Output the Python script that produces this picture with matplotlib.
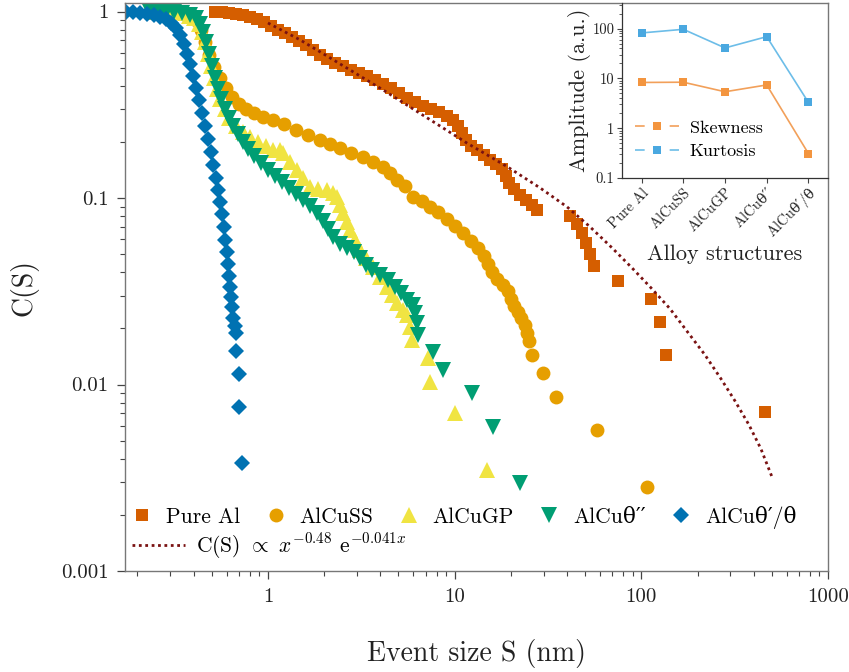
import matplotlib
matplotlib.use('Agg')
import matplotlib.pyplot as plt
from matplotlib.ticker import FixedLocator, FixedFormatter, LogLocator, NullFormatter
from matplotlib.lines import Line2D

plt.rcParams['font.family'] = ['cmr10', 'DejaVu Serif']
plt.rcParams['mathtext.fontset'] = 'cm'
plt.rcParams['axes.unicode_minus'] = False
plt.rcParams['axes.formatter.use_mathtext'] = True

# ---------------- data ----------------
series_names = ['Pure Al', 'AlCuSS', 'AlCuGP', 'AlCuθ′′', 'AlCuθ′/θ']
series_colors = ['#D55E00', '#E69F00', '#F0E442', '#009E73', '#0072B2']

pure_al_s = [0.520, 0.567, 0.618, 0.674, 0.735, 0.801, 0.873, 0.952, 1.038, 1.131,
             1.233, 1.344, 1.466, 1.598, 1.742, 1.899, 2.070, 2.285, 2.522, 2.784,
             3.072, 3.391, 3.742, 4.131, 4.558, 5.031, 5.554, 6.130, 6.764, 7.466,
             8.239, 9.094, 9.793, 10.42, 10.94, 11.50, 12.23, 13.17, 14.36, 15.46,
             16.64, 17.92, 18.83, 19.54, 20.78, 22.38, 24.10, 25.94, 27.60, 41.46,
             45.19, 48.07, 50.50, 53.05, 55.74, 74.94, 112.6, 125.8, 135.5, 459.2]
pure_al_c = [0.996, 0.996, 0.984, 0.972, 0.960, 0.937, 0.914, 0.881, 0.838, 0.798,
             0.769, 0.732, 0.696, 0.663, 0.623, 0.586, 0.558, 0.531, 0.511, 0.487,
             0.469, 0.452, 0.430, 0.410, 0.390, 0.3665, 0.3445, 0.328, 0.312, 0.3007,
             0.290, 0.276, 0.2626, 0.2438, 0.2237, 0.2047, 0.1905, 0.1813, 0.1705, 0.1603,
             0.1525, 0.1434, 0.1315, 0.1207, 0.112, 0.104, 0.0978, 0.0919, 0.0865, 0.0803,
             0.0727, 0.0651, 0.0575, 0.0502, 0.0433, 0.0360, 0.0288, 0.0217, 0.0144, 0.00714]

alcuss_s = [0.248, 0.281, 0.318, 0.351, 0.382, 0.412, 0.438, 0.460, 0.483, 0.514,
            0.553, 0.596, 0.642, 0.700, 0.762, 0.841, 0.940, 1.064, 1.218, 1.413,
            1.638, 1.899, 2.148, 2.430, 2.784, 3.228, 3.651, 4.131, 4.502, 4.909,
            5.417, 5.980, 6.682, 7.374, 8.138, 9.094, 10.04, 11.08, 12.23, 13.33,
            14.36, 15.08, 15.84, 16.85, 18.15, 19.30, 20.03, 20.78, 21.83, 22.66,
            23.80, 24.39, 25.00, 25.94, 29.72, 34.89, 57.84, 107.2]
alcuss_c = [0.996, 0.996, 0.996, 0.984, 0.960, 0.903, 0.798, 0.688, 0.586, 0.505,
            0.441, 0.390, 0.349, 0.320, 0.3007, 0.2862, 0.2725, 0.2626, 0.2499, 0.232,
            0.2182, 0.2047, 0.1953, 0.1858, 0.1747, 0.1663, 0.1563, 0.147, 0.1365, 0.1252,
            0.1162, 0.1015, 0.0966, 0.0897, 0.0843, 0.0773, 0.0710, 0.0651, 0.0589, 0.0541,
            0.049, 0.0444, 0.0402, 0.0369, 0.0342, 0.0318, 0.0288, 0.0264, 0.0245, 0.0228,
            0.0209, 0.0189, 0.0171, 0.0144, 0.01155, 0.00859, 0.00571, 0.00283]

alcugp_s = [0.248, 0.271, 0.299, 0.330, 0.359, 0.378, 0.400, 0.425, 0.444, 0.462,
            0.479, 0.497, 0.516, 0.536, 0.556, 0.586, 0.622, 0.674, 0.735, 0.801,
            0.884, 0.976, 1.064, 1.159, 1.203, 1.312, 1.430, 1.539, 1.679, 1.853,
            2.070, 2.229, 2.342, 2.430, 2.522, 2.649, 2.750, 2.924, 3.110, 3.349,
            3.651, 3.980, 4.339, 4.615, 4.909, 5.285, 5.554, 5.763, 5.906, 7.195,
            7.374, 10.04, 14.89]
alcugp_c = [0.996, 0.996, 0.996, 0.996, 0.984, 0.948, 0.925, 0.859, 0.778, 0.688,
            0.593, 0.511, 0.441, 0.385, 0.340, 0.3007, 0.269, 0.2438, 0.2265, 0.2129,
            0.2001, 0.1905, 0.1813, 0.1813, 0.1747, 0.1563, 0.1416, 0.1283, 0.1148, 0.112,
            0.1107, 0.1066, 0.1015, 0.0919, 0.0833, 0.0745, 0.0675, 0.0597, 0.0528, 0.0478,
            0.0428, 0.0378, 0.0334, 0.0303, 0.0274, 0.0252, 0.0236, 0.0204, 0.0174, 0.0139,
            0.01034, 0.00705, 0.00349]

alcu_t2_s = [0.233, 0.258, 0.284, 0.314, 0.346, 0.382, 0.412, 0.432, 0.449, 0.466,
             0.483, 0.501, 0.520, 0.540, 0.560, 0.588, 0.618, 0.650, 0.691, 0.735,
             0.781, 0.841, 0.917, 1.000, 1.090, 1.189, 1.296, 1.413, 1.539, 1.679,
             1.830, 1.970, 2.096, 2.229, 2.430, 2.649, 2.888, 3.110, 3.349, 3.606,
             3.980, 4.393, 4.788, 5.157, 5.554, 5.980, 6.130, 6.283, 6.361, 7.651,
             8.657, 12.38, 16.04, 22.38]
alcu_t2_c = [0.996, 0.996, 0.996, 0.996, 0.984, 0.960, 0.925, 0.859, 0.778, 0.688,
             0.593, 0.511, 0.441, 0.385, 0.340, 0.3007, 0.269, 0.2438, 0.2209, 0.2001,
             0.1836, 0.1684, 0.1544, 0.1416, 0.1315, 0.1221, 0.1134, 0.1053, 0.0978, 0.0908,
             0.0833, 0.0754, 0.0684, 0.0619, 0.0568, 0.0541, 0.0515, 0.0478, 0.0438, 0.0412,
             0.0388, 0.0364, 0.0334, 0.0310, 0.0285, 0.0268, 0.0242, 0.0214, 0.0185, 0.0150,
             0.0120, 0.0090, 0.0059, 0.00297]

alcu_t1_s = [0.1735, 0.189, 0.206, 0.225, 0.245, 0.264, 0.284, 0.302, 0.3215, 0.338,
             0.355, 0.368, 0.382, 0.397, 0.4115, 0.427, 0.443, 0.460, 0.477, 0.495,
             0.5075, 0.527, 0.540, 0.553, 0.567, 0.581, 0.588, 0.603, 0.611, 0.618,
             0.626, 0.634, 0.6415, 0.6495, 0.666, 0.674, 0.674, 0.6995, 0.6995, 0.726]
alcu_t1_c = [0.996, 0.996, 0.984, 0.972, 0.960, 0.937, 0.914, 0.870, 0.818, 0.750,
             0.671, 0.593, 0.524, 0.452, 0.390, 0.336, 0.286, 0.244, 0.2077, 0.1769,
             0.1507, 0.1283, 0.1107, 0.0954, 0.0823, 0.0701, 0.0597, 0.0515, 0.0444, 0.0383,
             0.0334, 0.0295, 0.0261, 0.0228, 0.0206, 0.0189, 0.0152, 0.0114, 0.0076, 0.0038]

fit_s = [1.0, 1.484, 2.02, 4.13, 11.64, 19.06, 28.64, 39.95, 53.05, 69.6, 89.1, 112.6,
         142.3, 173.3, 219, 267, 317, 377, 437, 500.6]
fit_c = [0.868, 0.705, 0.586, 0.38, 0.197, 0.1475, 0.1134, 0.0897, 0.0701, 0.0541, 0.0422,
         0.033, 0.0255, 0.01965, 0.01443, 0.01073, 0.00818, 0.00608, 0.00452, 0.0032]
fit_label = r'C(S) $\propto$ $x^{-0.48}$ e$^{-0.041x}$'

x_ticks = [1, 10, 100, 1000]
x_tick_labels = ['1', '10', '100', '1000']
y_ticks = [0.001, 0.01, 0.1, 1]
y_tick_labels = ['0.001', '0.01', '0.1', '1']

inset_categories = ['Pure Al', 'AlCuSS', 'AlCuGP', 'AlCuθ′′', 'AlCuθ′/θ']
skewness = [8.3, 8.4, 5.4, 7.4, 0.31]
kurtosis = [82, 97, 41, 69, 3.3]
inset_y_ticks = [0.1, 1, 10, 100]
inset_y_tick_labels = ['0.1', '1', '10', '100']

# ---------------- figure ----------------
fig = plt.figure(figsize=(8.49, 6.72), dpi=100)
ax = fig.add_axes([0.1472, 0.1503, 0.8281, 0.8445])

series = [(pure_al_s, pure_al_c, 's', 8.8),
          (alcuss_s, alcuss_c, 'o', 10),
          (alcugp_s, alcugp_c, '^', 11.5),
          (alcu_t2_s, alcu_t2_c, 'v', 11.5),
          (alcu_t1_s, alcu_t1_c, 'D', 7.8)]
handles = []
for (sx, sy, mk, ms), name, col in zip(series, series_names, series_colors):
    h, = ax.plot(sx, sy, linestyle='none', marker=mk, markersize=ms,
                 color=col, markeredgewidth=0, label=name, zorder=2)
    handles.append(h)
fit_h, = ax.plot(fit_s, fit_c, linestyle=(0, (1, 1.3)), color='#7A1212',
                 linewidth=2.0, label=fit_label, zorder=3)

ax.set_xscale('log')
ax.set_yscale('log')
ax.set_xlim(0.1714, 1000)
ax.set_ylim(0.001, 1.104)

ax.xaxis.set_major_locator(FixedLocator(x_ticks))
ax.xaxis.set_major_formatter(FixedFormatter(x_tick_labels))
ax.yaxis.set_major_locator(FixedLocator(y_ticks))
ax.yaxis.set_major_formatter(FixedFormatter(y_tick_labels))
ax.xaxis.set_minor_locator(LogLocator(base=10, subs=range(2, 10), numticks=20))
ax.yaxis.set_minor_locator(LogLocator(base=10, subs=range(2, 10), numticks=20))
ax.xaxis.set_minor_formatter(NullFormatter())
ax.yaxis.set_minor_formatter(NullFormatter())

spine_col = '#777777'
for sp in ax.spines.values():
    sp.set_color(spine_col)
    sp.set_linewidth(1.0)
ax.tick_params(which='both', direction='out', color='#444444', labelsize=15,
               labelcolor='#222222')
ax.tick_params(which='major', length=6, width=0.9, pad=6)
ax.tick_params(which='minor', length=3.5, width=0.8)

ax.set_xlabel('Event size S (nm)', fontsize=20, labelpad=24, color='#222222')
ax.set_ylabel('C(S)', fontsize=20, labelpad=16, color='#222222')

leg1 = ax.legend(handles=handles, loc='center left', bbox_to_anchor=(-0.015, 0.095),
                 ncol=5, frameon=False, fontsize=15.5, handletextpad=0.5,
                 columnspacing=1.05, handlelength=1.2, borderpad=0.2)
ax.add_artist(leg1)
ax.legend(handles=[fit_h], loc='center left', bbox_to_anchor=(-0.012, 0.043),
          frameon=False, fontsize=15.5, handletextpad=0.5, handlelength=2.5,
          borderpad=0.2)

# ---------------- inset ----------------
ins = fig.add_axes([0.7326, 0.7351, 0.2427, 0.2597])
ins.set_facecolor('none')
xs = list(range(len(inset_categories)))
skew_line_col, skew_mk_col = '#F2A05A', '#F3953F'
kurt_line_col, kurt_mk_col = '#6CBDE8', '#4AA8E0'
ins.plot(xs, skewness, color=skew_line_col, marker='s', markersize=5.5,
         markerfacecolor=skew_mk_col, markeredgewidth=0, linewidth=1.2)
ins.plot(xs, kurtosis, color=kurt_line_col, marker='s', markersize=5.5,
         markerfacecolor=kurt_mk_col, markeredgewidth=0, linewidth=1.2)
ins.set_yscale('log')
ins.set_ylim(0.1, 320)
ins.set_xlim(-0.47, 4.47)
ins.yaxis.set_major_locator(FixedLocator(inset_y_ticks))
ins.yaxis.set_major_formatter(FixedFormatter(inset_y_tick_labels))
ins.yaxis.set_minor_locator(LogLocator(base=10, subs=range(2, 10), numticks=20))
ins.yaxis.set_minor_formatter(NullFormatter())
ins.set_xticks(xs)
ins.set_xticklabels(inset_categories, rotation=45, ha='right', rotation_mode='anchor',
                    fontsize=10)
ins.spines['top'].set_visible(False)
ins.spines['right'].set_visible(False)
for s in ('left', 'bottom'):
    ins.spines[s].set_color('#333333')
    ins.spines[s].set_linewidth(0.9)
ins.tick_params(which='both', direction='out', color='#444444', labelsize=10.5,
                labelcolor='#222222')
ins.tick_params(which='major', length=3.5, width=0.8, pad=2)
ins.tick_params(which='minor', length=2, width=0.6)
ins.set_ylabel('Amplitude (a.u.)', fontsize=16, labelpad=1, color='#222222')
ins.set_xlabel('Alloy structures', fontsize=16, labelpad=3, color='#222222')

leg_handles = [
    Line2D([], [], color=skew_line_col, linestyle=(0, (5.8, 15)), linewidth=1.2,
           marker='s', markersize=5.5, markerfacecolor=skew_mk_col, markeredgewidth=0),
    Line2D([], [], color=kurt_line_col, linestyle=(0, (5.8, 15)), linewidth=1.2,
           marker='s', markersize=5.5, markerfacecolor=kurt_mk_col, markeredgewidth=0),
]
ins.legend(leg_handles, ['Skewness', 'Kurtosis'], loc='center left',
           bbox_to_anchor=(0.0, 0.22), frameon=False, fontsize=13,
           handlelength=2.46, handletextpad=0.6, labelspacing=0.45, borderpad=0.2)

fig.savefig('out.png', dpi=100)
